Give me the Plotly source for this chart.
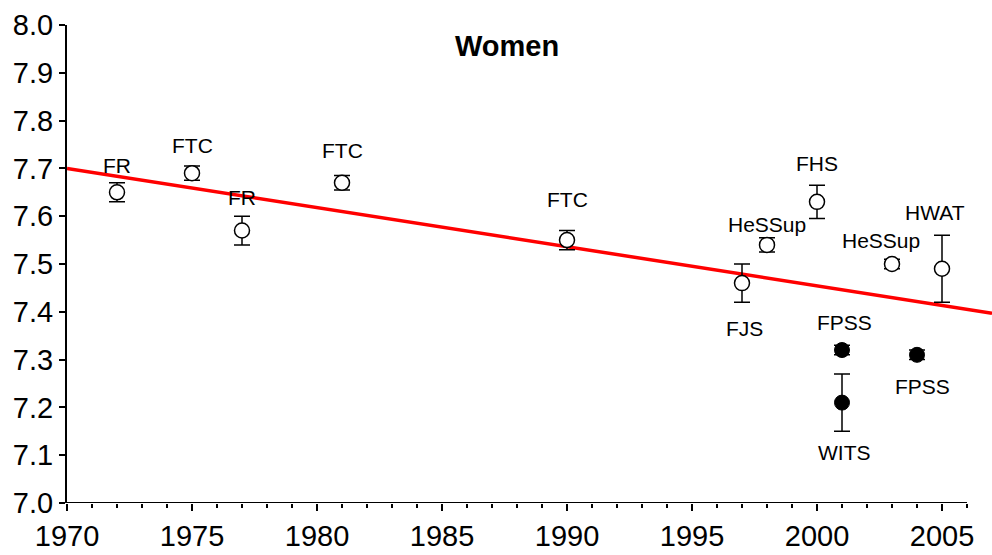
import plotly.graph_objects as go

# Cohort studies with open circles
open_years = [1972, 1975, 1977, 1981, 1990, 1997, 1998, 2000, 2003, 2005]
open_vals = [7.65, 7.69, 7.57, 7.67, 7.55, 7.46, 7.54, 7.63, 7.50, 7.49]
open_err = [0.02, 0.015, 0.03, 0.015, 0.02, 0.04, 0.015, 0.035, 0.01, 0.07]
open_labels = ["FR", "FTC", "FR", "FTC", "FTC", "FJS", "HeSSup", "FHS", "HeSSup", "HWAT"]

# Studies with filled circles
filled_years = [2001, 2001, 2004]
filled_vals = [7.32, 7.21, 7.31]
filled_err = [0.01, 0.06, 0.01]
filled_labels = ["FPSS", "WITS", "FPSS"]

# Fitted trend
trend_years = [1970, 2007]
trend_vals = [7.70, 7.397]

x_major = [1970, 1975, 1980, 1985, 1990, 1995, 2000, 2005]
x_minor = [y for y in range(1971, 2007) if y % 5 != 0]
y_ticks = [7.0, 7.1, 7.2, 7.3, 7.4, 7.5, 7.6, 7.7, 7.8, 7.9, 8.0]

# label placement offsets (years, units) relative to each point
open_offsets = [(0, 0.057), (0, 0.057), (0, 0.07), (0, 0.068), (0, 0.084),
                (0.1, -0.094), (0, 0.043), (0, 0.08), (-0.45, 0.05), (-0.3, 0.117)]
filled_offsets = [(0.1, 0.057), (0.1, -0.105), (0.2, -0.067)]

FONT = "Liberation Sans, Arial, sans-serif"

fig = go.Figure()

fig.add_trace(go.Scatter(
    x=trend_years, y=trend_vals, mode="lines",
    line=dict(color="#ff0000", width=3.5), hoverinfo="skip", cliponaxis=False,
))

fig.add_trace(go.Scatter(
    x=open_years, y=open_vals, mode="markers",
    marker=dict(symbol="circle", size=15, color="white",
                line=dict(color="black", width=1.5)),
    error_y=dict(type="data", array=open_err, visible=True,
                 color="black", thickness=1.5, width=8),
))

fig.add_trace(go.Scatter(
    x=filled_years, y=filled_vals, mode="markers",
    marker=dict(symbol="circle", size=15, color="black",
                line=dict(color="black", width=1)),
    error_y=dict(type="data", array=filled_err, visible=True,
                 color="black", thickness=1.5, width=8),
))

annotations = []
for yr, v, lab, (dx, dy) in zip(open_years, open_vals, open_labels, open_offsets):
    annotations.append(dict(x=yr + dx, y=v + dy, text=lab, showarrow=False,
                            xanchor="center", yanchor="middle",
                            font=dict(family=FONT, size=21, color="black")))
for yr, v, lab, (dx, dy) in zip(filled_years, filled_vals, filled_labels, filled_offsets):
    annotations.append(dict(x=yr + dx, y=v + dy, text=lab, showarrow=False,
                            xanchor="center", yanchor="middle",
                            font=dict(family=FONT, size=21, color="black")))

annotations.append(dict(x=0.476, y=0.956, xref="paper", yref="paper",
                        text="<b>Women</b>", showarrow=False,
                        xanchor="center", yanchor="middle",
                        font=dict(family=FONT, size=29, color="black")))

fig.update_layout(
    width=992, height=555,
    margin=dict(l=67, r=0, t=25, b=52),
    paper_bgcolor="white", plot_bgcolor="white",
    showlegend=False,
    annotations=annotations,
    font=dict(family=FONT, color="black"),
    shapes=[dict(type="line", xref="x", yref="y", x0=1970, x1=2006, y0=7.0, y1=7.0,
                 line=dict(color="black", width=2), layer="above")],
)

fig.update_xaxes(
    range=[1970, 2007], showgrid=False, zeroline=False, showline=False,
    tickmode="array", tickvals=x_major, ticktext=[str(v) for v in x_major],
    ticks="outside", ticklen=7, tickwidth=2, tickcolor="black",
    minor=dict(tickmode="array", tickvals=x_minor, ticks="outside",
               ticklen=4, tickwidth=1.5, tickcolor="black"),
    tickfont=dict(family=FONT, size=29, color="black"),
)

fig.update_yaxes(
    range=[7.0, 8.0], showgrid=False, zeroline=False,
    showline=True, linecolor="black", linewidth=2,
    tickmode="array", tickvals=y_ticks, ticktext=[f"{v:.1f}" for v in y_ticks],
    ticks="outside", ticklen=6, tickwidth=2, tickcolor="black",
    tickfont=dict(family=FONT, size=29, color="black"),
)

fig.write_html("out.html")
